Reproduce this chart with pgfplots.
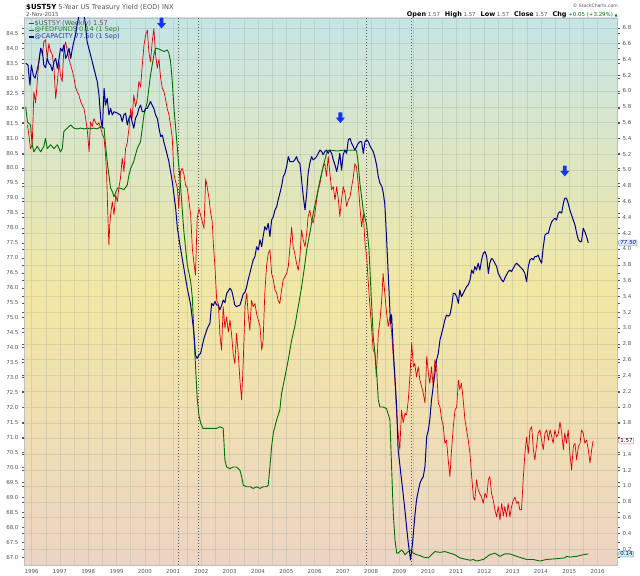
\documentclass[border=0pt]{standalone}
\usepackage{pgfplots}
\pgfplotsset{compat=1.18}
\usepackage{fontspec}
\setmainfont{DejaVu Sans}
\usetikzlibrary{shapes.symbols}
\definecolor{bgtop}{RGB}{198,229,230}
\definecolor{bgmid}{RGB}{242,231,163}
\definecolor{bgbot}{RGB}{236,213,196}
\definecolor{gridc}{RGB}{150,160,150}
\definecolor{ustred}{RGB}{228,0,0}
\definecolor{ffgreen}{RGB}{0,112,0}
\definecolor{capblue}{RGB}{0,0,145}
\definecolor{arrowblue}{RGB}{20,50,255}
\definecolor{labgray}{RGB}{85,85,85}
\definecolor{leggreen}{RGB}{40,130,40}
\definecolor{legblue}{RGB}{40,60,170}
\definecolor{tagred}{RGB}{230,120,120}
\definecolor{tagteal}{RGB}{80,170,160}
\definecolor{tagtealfill}{RGB}{215,240,238}
\definecolor{tagblue}{RGB}{100,140,220}
\definecolor{tagbluefill}{RGB}{225,238,250}
\pgfdeclareplotmark{dnarrow}{%
 \pgfpathmoveto{\pgfpoint{-0.42\pgfplotmarksize}{1.2\pgfplotmarksize}}%
 \pgfpathlineto{\pgfpoint{0.42\pgfplotmarksize}{1.2\pgfplotmarksize}}%
 \pgfpathlineto{\pgfpoint{0.42\pgfplotmarksize}{0\pgfplotmarksize}}%
 \pgfpathlineto{\pgfpoint{1\pgfplotmarksize}{0\pgfplotmarksize}}%
 \pgfpathlineto{\pgfpoint{0\pgfplotmarksize}{-1.2\pgfplotmarksize}}%
 \pgfpathlineto{\pgfpoint{-1\pgfplotmarksize}{0\pgfplotmarksize}}%
 \pgfpathlineto{\pgfpoint{-0.42\pgfplotmarksize}{0\pgfplotmarksize}}%
 \pgfpathclose\pgfusepathqfill}
\begin{document}
\begin{tikzpicture}
\path[use as bounding box, fill=white] (0,0) rectangle (640bp,576bp);
% ---------- right-axis chart: yields ----------
\begin{axis}[
 at={(24bp,11bp)}, anchor=south west, scale only axis,
 width=593.7bp, height=547bp,
 xmin=1995.73, xmax=2016.71, ymin=0, ymax=6.924,
 clip mode=individual,
 axis background/.style={shade, top color=bgtop, bottom color=bgbot, middle color=bgmid},
 axis line style={draw=gray!50, line width=0.5bp},
 xtick={1996,...,2016}, minor xtick={1996.5,1997.5,...,2015.6},
 ytick={0.2,0.4,...,1.45,1.8,2.0,...,6.85}, yticklabel pos=right,
 extra y ticks={1.6}, extra y tick labels={},
 grid=both,
 major grid style={draw=gridc, opacity=0.25, line width=0.5bp},
 minor grid style={draw=gridc, opacity=0.25, line width=0.5bp},
 extra y tick style={grid=major, major grid style={draw=gridc, opacity=0.25, line width=0.5bp}},
 xtick style={draw=none}, minor tick length=0pt,
 ytick style={draw=labgray, line width=0.4bp}, major tick length=2bp, tick align=outside,
 xticklabel style={font=\fontsize{5.5}{6}\selectfont, text=labgray, yshift=1bp, /pgf/number format/1000 sep={}},
 yticklabel style={font=\fontsize{5.5}{6}\selectfont, text=labgray, xshift=-0.5bp, /pgf/number format/.cd, fixed, precision=1, fixed zerofill},
 /pgf/number format/assume math mode=true,
 legend style={at={(0.0067,0.9965)}, anchor=north west, draw=none, fill=none,
   font=\fontsize{6.6}{7}\selectfont, inner sep=0pt, row sep=0pt,
   nodes={inner sep=0.25bp, text height=4.9bp, text depth=1.3bp}},
 legend cell align=left,
 legend image code/.code={\draw[#1, line width=1.3bp] (0bp,0bp) -- (5bp,0bp);},
]
\addplot[forget plot, draw=gray!70!black, line width=0.6bp, dash pattern=on 1.5bp off 1.5bp] coordinates {(2001.18,0) (2001.18,6.924)};
\addplot[forget plot, draw=gray!70!black, line width=0.6bp, dash pattern=on 1.5bp off 1.5bp] coordinates {(2001.88,0) (2001.88,6.924)};
\addplot[forget plot, draw=gray!70!black, line width=0.6bp, dash pattern=on 1.5bp off 1.5bp] coordinates {(2007.81,0) (2007.81,6.924)};
\addplot[forget plot, draw=gray!70!black, line width=0.6bp, dash pattern=on 1.5bp off 1.5bp] coordinates {(2009.41,0) (2009.41,6.924)};
% $UST5Y weekly
\addplot[ustred, line width=0.7bp, line join=round] coordinates {
(1995.85,5.57) (1995.90,5.45) (1995.96,5.27) (1996.02,5.32) (1996.08,5.99) (1996.14,5.85) (1996.2,6.12) (1996.26,6.41) (1996.32,6.54) (1996.38,6.45) (1996.43,6.62) (1996.49,6.65) (1996.55,6.41) (1996.61,6.6) (1996.67,6.5) (1996.73,6.46) (1996.79,6.29) (1996.85,5.9) (1996.91,6.12) (1996.97,6.37) (1997.02,6.2) (1997.08,6.12) (1997.14,6.54) (1997.2,6.62) (1997.26,6.5) (1997.32,6.4) (1997.38,6.33) (1997.44,6.25) (1997.5,6.16) (1997.55,6.05) (1997.61,5.99) (1997.67,5.95) (1997.73,5.87) (1997.79,5.82) (1997.85,5.78) (1997.91,5.65) (1997.97,5.49) (1998.03,5.23) (1998.08,5.61) (1998.14,5.55) (1998.2,5.65) (1998.26,5.6) (1998.32,5.57) (1998.38,5.6) (1998.44,5.53) (1998.5,5.45) (1998.56,5.4) (1998.61,5.2) (1998.65,4.94) (1998.7,4.35) (1998.73,4.05) (1998.76,4.3) (1998.79,4.43) (1998.85,4.6) (1998.91,4.43) (1998.97,4.68) (1999.03,4.6) (1999.08,4.77) (1999.14,4.9) (1999.2,5.15) (1999.26,4.98) (1999.32,5.27) (1999.38,5.35) (1999.44,5.53) (1999.5,5.78) (1999.55,5.65) (1999.61,5.95) (1999.67,5.8) (1999.73,5.9) (1999.79,6.12) (1999.85,6.05) (1999.91,6.33) (1999.97,6.58) (2000.03,6.71) (2000.09,6.77) (2000.14,6.5) (2000.2,6.37) (2000.26,6.62) (2000.32,6.79) (2000.38,6.46) (2000.44,6.29) (2000.5,6.4) (2000.56,6.16) (2000.62,6.03) (2000.67,6.0) (2000.73,5.9) (2000.79,5.78) (2000.85,5.7) (2000.91,5.57) (2000.97,5.4) (2001.03,4.94) (2001.09,4.85) (2001.15,4.77) (2001.2,4.51) (2001.26,4.98) (2001.32,5.02) (2001.38,4.95) (2001.44,4.81) (2001.5,4.77) (2001.56,4.6) (2001.62,4.43) (2001.68,4.0) (2001.73,3.84) (2001.79,3.67) (2001.85,4.39) (2001.91,4.51) (2001.97,4.43) (2002.03,4.35) (2002.09,4.26) (2002.15,4.89) (2002.21,4.77) (2002.27,4.64) (2002.32,4.47) (2002.38,4.35) (2002.42,4.07) (2002.48,3.76) (2002.54,3.35) (2002.6,3.3) (2002.65,2.93) (2002.71,2.72) (2002.77,3.27) (2002.83,3.0)
(2002.89,3.14) (2002.95,2.95) (2003.01,3.1) (2003.07,2.9) (2003.12,2.68) (2003.18,2.55) (2003.24,2.93) (2003.3,2.68) (2003.36,2.34) (2003.42,2.09) (2003.48,2.6) (2003.54,3.27) (2003.6,3.44) (2003.65,3.18) (2003.71,2.97) (2003.77,3.35) (2003.83,3.27) (2003.89,3.31) (2003.95,3.18) (2004.01,3.1) (2004.07,3.02) (2004.13,2.72) (2004.18,2.85) (2004.24,3.44) (2004.3,3.78) (2004.36,3.94) (2004.42,3.99) (2004.48,3.69) (2004.54,3.61) (2004.6,3.48) (2004.66,3.44) (2004.71,3.35) (2004.77,3.31) (2004.83,3.48) (2004.89,3.61) (2004.95,3.65) (2005.01,3.69) (2005.07,3.78) (2005.13,4.03) (2005.19,4.28) (2005.24,4.03) (2005.3,3.94) (2005.36,3.82) (2005.42,3.73) (2005.48,3.9) (2005.54,4.24) (2005.6,4.11) (2005.66,4.03) (2005.72,4.2) (2005.77,4.41) (2005.83,4.49) (2005.89,4.37) (2005.95,4.33) (2006.01,4.45) (2006.07,4.62) (2006.13,4.75) (2006.19,4.83) (2006.25,4.96) (2006.3,5.04) (2006.36,5.08) (2006.42,4.92) (2006.48,5.17) (2006.54,4.96) (2006.6,4.75) (2006.66,4.79) (2006.72,4.62) (2006.78,4.79) (2006.84,4.62) (2006.89,4.41) (2006.95,4.62) (2007.01,4.79) (2007.07,4.71) (2007.13,4.54) (2007.19,4.62) (2007.25,4.66) (2007.31,4.79) (2007.37,4.92) (2007.42,5.08) (2007.48,5.04) (2007.54,4.83) (2007.6,4.54) (2007.66,4.28) (2007.72,4.45) (2007.78,4.07) (2007.84,3.9) (2007.89,3.61) (2007.95,3.3) (2008.01,3.02) (2008.07,2.72) (2008.13,2.68) (2008.18,2.38) (2008.25,2.93) (2008.31,3.1) (2008.37,3.35) (2008.42,3.69) (2008.48,3.44) (2008.54,3.2) (2008.6,3.02) (2008.66,3.14) (2008.72,2.95) (2008.78,2.64) (2008.84,2.3) (2008.9,1.9) (2008.95,1.67) (2009.01,1.46) (2009.07,1.96) (2009.13,1.8) (2009.19,1.92) (2009.25,1.9) (2009.31,2.09) (2009.37,2.4) (2009.43,2.81) (2009.49,2.51) (2009.54,2.55) (2009.6,2.38) (2009.66,2.51) (2009.72,2.34) (2009.78,2.26) (2009.84,2.17) (2009.9,2.05) (2009.96,2.64) (2010.02,2.43) (2010.07,2.3) (2010.13,2.51) (2010.19,2.26) (2010.25,2.6) (2010.31,2.51) (2010.37,2.05) (2010.43,2.0) (2010.49,1.84) (2010.55,1.75) (2010.6,1.54) (2010.66,1.58) (2010.72,1.33) (2010.78,1.12) (2010.84,1.46) (2010.9,1.75) (2010.96,1.96) (2011.02,2.0) (2011.08,2.34) (2011.13,2.22) (2011.19,2.3) (2011.25,2.09) (2011.31,1.84) (2011.37,1.71) (2011.43,1.58) (2011.49,1.41) (2011.55,1.12) (2011.61,0.86) (2011.66,0.82) (2011.72,1.08) (2011.78,0.95) (2011.84,0.9) (2011.9,0.86) (2011.96,0.78) (2012.02,0.91) (2012.08,0.85) (2012.14,1.08) (2012.19,1.12) (2012.25,0.91) (2012.31,0.82) (2012.37,0.7) (2012.43,0.61) (2012.49,0.74) (2012.55,0.57) (2012.61,0.78) (2012.67,0.62) (2012.72,0.74) (2012.78,0.61) (2012.84,0.78) (2012.9,0.61) (2012.96,0.74) (2013.02,0.82) (2013.08,0.86) (2013.14,0.78) (2013.2,0.8) (2013.25,0.7) (2013.31,0.7) (2013.37,1.08) (2013.43,1.41) (2013.49,1.62) (2013.55,1.41) (2013.61,1.71) (2013.67,1.75) (2013.73,1.46) (2013.78,1.33) (2013.84,1.5) (2013.9,1.67) (2013.96,1.71) (2014.02,1.58) (2014.08,1.46) (2014.14,1.67) (2014.2,1.71) (2014.26,1.58) (2014.32,1.71) (2014.38,1.62) (2014.43,1.54) (2014.49,1.71) (2014.55,1.62) (2014.61,1.66) (2014.67,1.81) (2014.73,1.67) (2014.79,1.46) (2014.84,1.67) (2014.9,1.54) (2014.96,1.71) (2015.02,1.41) (2015.08,1.2) (2015.14,1.5) (2015.2,1.54) (2015.26,1.33) (2015.32,1.5) (2015.38,1.54) (2015.43,1.71) (2015.49,1.67) (2015.55,1.54) (2015.61,1.58) (2015.67,1.46) (2015.73,1.29) (2015.79,1.46) (2015.84,1.57)
};
\addlegendentry{\textcolor{labgray}{\$UST5Y (Weekly) 1.57}}
% @FEDFUNDS
\addplot[ffgreen, line width=0.9bp, line join=round] coordinates {
(1995.79,5.8) (1995.85,5.61) (1995.96,5.57) (1996.02,5.32) (1996.08,5.23) (1996.2,5.3) (1996.32,5.23) (1996.43,5.3) (1996.49,5.4) (1996.55,5.27) (1996.67,5.32) (1996.79,5.27) (1996.91,5.32) (1997.02,5.23) (1997.08,5.27) (1997.14,5.49) (1997.2,5.51) (1997.26,5.53) (1997.38,5.57) (1997.49,5.53) (1997.61,5.52) (1997.73,5.53) (1997.85,5.52) (1997.97,5.53) (1998.08,5.52) (1998.2,5.53) (1998.32,5.52) (1998.44,5.55) (1998.56,5.53) (1998.61,5.32) (1998.67,5.11) (1998.73,4.94) (1998.79,4.77) (1998.85,4.73) (1998.91,4.66) (1999.03,4.77) (1999.14,4.77) (1999.26,4.75) (1999.38,4.81) (1999.44,4.94) (1999.5,5.02) (1999.61,5.11) (1999.73,5.27) (1999.85,5.36) (1999.91,5.53) (1999.97,5.7) (2000.09,5.87) (2000.14,6.03) (2000.2,6.2) (2000.26,6.33) (2000.32,6.46) (2000.38,6.54) (2000.44,6.54) (2000.56,6.52) (2000.68,6.5) (2000.79,6.52) (2000.85,6.48) (2000.91,6.37) (2000.97,6.12) (2001.03,5.78) (2001.09,5.53) (2001.15,5.27) (2001.2,5.06) (2001.26,4.81) (2001.32,4.51) (2001.38,4.22) (2001.5,3.8) (2001.62,3.59) (2001.68,3.38) (2001.73,2.95) (2001.79,2.53) (2001.85,2.11) (2001.91,1.9) (2001.97,1.8) (2002.05,1.73) (2002.3,1.73) (2002.54,1.73) (2002.65,1.75) (2002.77,1.73) (2002.83,1.33) (2002.89,1.24) (2003.01,1.22) (2003.12,1.24) (2003.24,1.24) (2003.36,1.2) (2003.42,1.12) (2003.48,1.01) (2003.6,0.99) (2003.72,0.99) (2003.83,0.97) (2003.95,0.99) (2004.07,0.97) (2004.18,0.99) (2004.3,0.99) (2004.36,1.01) (2004.42,1.24) (2004.48,1.5) (2004.54,1.67) (2004.66,1.84) (2004.77,1.96) (2004.83,2.17) (2004.95,2.38) (2005.07,2.6) (2005.19,2.85) (2005.3,3.02) (2005.42,3.27) (2005.54,3.52) (2005.66,3.82) (2005.72,3.99) (2005.83,4.2) (2005.95,4.45) (2006.07,4.66) (2006.19,4.87) (2006.3,5.04) (2006.42,5.21) (2006.48,5.25) (2006.6,5.25) (2006.78,5.24) (2007.01,5.25) (2007.25,5.25) (2007.48,5.25) (2007.54,5.08) (2007.6,4.83) (2007.72,4.49) (2007.84,4.3) (2007.92,4.0) (2008.0,3.4) (2008.07,2.9) (2008.19,2.45) (2008.25,2.09) (2008.31,2.0) (2008.42,2.0) (2008.54,1.98) (2008.66,1.84) (2008.72,1.24) (2008.78,0.65) (2008.84,0.32) (2008.9,0.15) (2008.95,0.15) (2009.07,0.19) (2009.13,0.17) (2009.19,0.13) (2009.31,0.17) (2009.4,0.19) (2009.49,0.15) (2009.6,0.13) (2009.72,0.12) (2009.84,0.1) (2010.02,0.09) (2010.13,0.13) (2010.25,0.17) (2010.43,0.16) (2010.6,0.17) (2010.78,0.15) (2010.96,0.13) (2011.13,0.09) (2011.37,0.07) (2011.5,0.06) (2011.61,0.07) (2011.72,0.05) (2011.96,0.07) (2012.19,0.13) (2012.37,0.15) (2012.55,0.11) (2012.72,0.14) (2012.9,0.14) (2013.14,0.11) (2013.31,0.09) (2013.49,0.07) (2013.72,0.07) (2013.96,0.05) (2014.2,0.07) (2014.55,0.08) (2014.84,0.09) (2014.9,0.11) (2015.02,0.1) (2015.26,0.11) (2015.49,0.13) (2015.67,0.14)
};
\addlegendentry{\textcolor{leggreen}{@FEDFUNDS 0.14 (1 Sep)}}
\addlegendimage{capblue}
\addlegendentry{\textcolor{legblue}{@CAPACITY 77.50 (1 Sep)}}
\node[signal, signal to=west, signal pointer angle=120, draw=tagred, fill=white, inner sep=0.8bp, font=\fontsize{5.5}{6}\selectfont, anchor=west] at (axis cs:2016.71,1.57) {1.57};
\node[signal, signal to=west, signal pointer angle=120, draw=tagteal, fill=tagtealfill, inner sep=0.8bp, font=\fontsize{5.5}{6}\selectfont, text=capblue, anchor=west] at (axis cs:2016.71,0.14) {0.14};
\end{axis}
% ---------- left-axis chart: capacity ----------
\begin{axis}[
 at={(24bp,11bp)}, anchor=south west, scale only axis,
 width=593.7bp, height=547bp,
 xmin=1995.73, xmax=2016.71, ymin=66.74, ymax=85.01,
 clip mode=individual,
 axis line style={draw=none},
 xtick=\empty,
 ytick={67,67.5,...,84.6}, yticklabel pos=left,
 ytick style={draw=labgray, line width=0.4bp}, major tick length=2bp, tick align=outside,
 yticklabel style={font=\fontsize{5.5}{6}\selectfont, text=labgray, /pgf/number format/.cd, fixed, precision=1, fixed zerofill},
 /pgf/number format/assume math mode=true,
]
\addplot[capblue, line width=1.0bp, line join=round] coordinates {
(1995.79,83.5) (1995.87,83.44) (1995.94,82.77) (1995.99,83.44) (1996.06,83.1) (1996.12,83.0) (1996.18,83.22) (1996.26,83.55) (1996.32,84.0) (1996.38,83.9) (1996.43,83.44) (1996.49,83.35) (1996.55,83.66) (1996.61,83.5) (1996.67,83.44) (1996.73,83.25) (1996.79,83.55) (1996.85,83.66) (1996.91,83.33) (1996.97,83.66) (1997.02,84.0) (1997.08,83.9) (1997.14,84.11) (1997.2,83.66) (1997.26,83.78) (1997.32,84.0) (1997.38,83.66) (1997.44,84.0) (1997.49,84.22) (1997.55,84.44) (1997.61,84.8) (1997.7,85.2) (1997.8,85.3) (1997.88,84.95) (1997.96,84.22) (1998.08,83.78) (1998.14,83.55) (1998.2,83.33) (1998.26,83.1) (1998.32,82.88) (1998.38,82.44) (1998.44,81.66) (1998.5,81.33) (1998.56,82.66) (1998.61,82.1) (1998.67,82.33) (1998.73,81.77) (1998.79,81.99) (1998.85,81.77) (1998.91,81.88) (1999.03,81.83) (1999.14,81.77) (1999.2,81.55) (1999.26,81.77) (1999.32,81.83) (1999.38,81.44) (1999.44,81.66) (1999.5,81.77) (1999.55,81.55) (1999.61,81.33) (1999.67,81.66) (1999.73,81.77) (1999.79,81.99) (1999.85,82.1) (1999.91,81.88) (1999.97,81.88) (2000.03,81.99) (2000.09,81.99) (2000.14,82.1) (2000.2,82.22) (2000.26,82.1) (2000.32,81.99) (2000.38,81.77) (2000.44,81.66) (2000.5,81.33) (2000.56,81.05) (2000.62,81.1) (2000.67,80.88) (2000.73,80.66) (2000.79,80.44) (2000.85,80.21) (2000.91,79.88) (2000.97,79.55) (2001.03,79.1) (2001.09,78.65) (2001.15,77.99) (2001.26,77.32) (2001.38,76.65) (2001.5,75.98) (2001.62,75.43) (2001.73,74.53) (2001.79,73.75) (2001.85,73.64) (2001.91,73.75) (2001.97,73.81) (2002.09,74.31) (2002.21,74.65) (2002.3,74.81) (2002.36,75.48) (2002.42,75.4) (2002.48,75.54) (2002.54,75.42) (2002.6,75.42) (2002.65,75.26) (2002.71,75.4) (2002.77,75.59) (2002.83,75.5) (2002.89,75.8) (2002.95,75.9) (2003.01,75.98) (2003.07,75.9) (2003.12,75.7) (2003.18,75.42) (2003.24,75.37) (2003.36,75.42) (2003.42,75.6) (2003.48,75.8) (2003.54,75.85) (2003.6,76.04) (2003.65,76.26) (2003.71,76.48) (2003.77,76.71) (2003.83,76.93) (2003.89,77.04) (2003.95,77.37) (2004.01,77.26) (2004.07,77.6) (2004.13,77.37) (2004.18,77.71) (2004.24,78.04) (2004.3,77.93) (2004.36,78.15) (2004.42,77.71) (2004.48,78.26) (2004.54,78.37) (2004.6,78.6) (2004.66,78.71) (2004.71,78.93) (2004.77,79.15) (2004.83,79.38) (2004.89,79.71) (2004.95,79.82) (2005.01,80.05) (2005.07,80.38) (2005.13,80.21) (2005.24,80.21) (2005.3,80.27) (2005.36,80.38) (2005.42,80.21) (2005.48,80.16) (2005.54,79.6) (2005.6,79.04) (2005.66,78.6) (2005.72,79.15) (2005.77,79.82) (2005.83,80.16) (2005.89,80.38) (2005.95,80.27) (2006.01,80.32) (2006.07,80.38) (2006.13,80.49) (2006.19,80.6) (2006.25,80.55) (2006.3,80.44) (2006.36,80.55) (2006.42,80.6) (2006.48,80.49) (2006.54,80.6) (2006.6,80.49) (2006.66,80.27) (2006.72,80.1) (2006.78,79.88) (2006.84,80.16) (2006.89,80.49) (2006.95,79.93) (2007.01,80.44) (2007.07,80.6) (2007.13,80.49) (2007.19,80.94) (2007.25,80.99) (2007.31,80.82) (2007.37,80.71) (2007.42,80.6) (2007.48,80.71) (2007.54,80.82) (2007.6,80.88) (2007.66,80.88) (2007.72,80.49) (2007.78,80.88) (2007.84,80.94) (2007.9,80.88) (2007.95,80.75) (2008.01,80.65) (2008.07,80.55) (2008.13,80.35) (2008.19,80.1) (2008.25,79.71) (2008.31,79.49) (2008.37,79.4) (2008.42,79.2) (2008.48,78.8) (2008.54,77.7) (2008.6,76.48) (2008.66,75.25) (2008.68,74.8) (2008.72,75.1) (2008.78,73.9) (2008.84,73.0) (2008.9,72.0) (2008.95,70.6) (2009.01,70.1) (2009.07,69.6) (2009.13,69.1) (2009.19,68.58) (2009.25,68.0) (2009.31,67.47) (2009.39,66.91) (2009.46,67.47) (2009.54,68.36) (2009.6,68.91) (2009.66,69.2) (2009.72,69.47) (2009.78,69.6) (2009.84,69.69) (2009.9,70.03) (2009.96,71.03) (2010.02,71.25) (2010.07,71.59) (2010.13,72.25) (2010.19,72.7) (2010.25,73.14) (2010.31,73.59) (2010.37,73.81) (2010.43,74.26) (2010.49,74.48) (2010.55,74.7) (2010.6,74.92) (2010.66,75.09) (2010.72,75.05) (2010.78,75.09) (2010.84,75.37) (2010.9,75.81) (2010.96,75.81) (2011.02,75.7) (2011.08,75.48) (2011.13,75.93) (2011.19,75.7) (2011.25,75.81) (2011.37,76.04) (2011.43,76.1) (2011.49,76.26) (2011.55,76.59) (2011.61,76.48) (2011.66,76.71) (2011.72,76.59) (2011.78,76.82) (2011.84,76.59) (2011.9,76.93) (2011.96,77.15) (2012.02,77.21) (2012.08,77.04) (2012.14,76.48) (2012.19,76.82) (2012.25,76.98) (2012.31,76.93) (2012.37,76.82) (2012.43,76.71) (2012.49,76.48) (2012.55,76.37) (2012.61,76.26) (2012.67,76.2) (2012.72,76.32) (2012.78,76.43) (2012.84,76.54) (2012.9,76.59) (2012.96,76.54) (2013.02,76.65) (2013.08,76.76) (2013.14,76.82) (2013.2,76.76) (2013.25,76.71) (2013.31,76.65) (2013.37,76.59) (2013.43,76.48) (2013.49,76.2) (2013.55,76.71) (2013.61,76.93) (2013.67,76.98) (2013.73,76.93) (2013.78,77.04) (2013.84,77.04) (2013.9,77.09) (2013.96,76.93) (2014.02,76.82) (2014.08,77.37) (2014.14,77.76) (2014.2,77.82) (2014.26,77.82) (2014.32,78.04) (2014.38,78.21) (2014.43,78.26) (2014.49,78.32) (2014.55,78.26) (2014.61,78.49) (2014.67,78.54) (2014.73,78.49) (2014.79,78.82) (2014.84,78.99) (2014.9,78.99) (2014.96,78.82) (2015.02,78.6) (2015.08,78.43) (2015.14,78.26) (2015.2,78.1) (2015.26,77.82) (2015.32,77.6) (2015.38,77.54) (2015.43,77.54) (2015.49,77.99) (2015.55,77.87) (2015.61,77.71) (2015.67,77.5)
};
\addplot[only marks, mark=dnarrow, mark size=4.5bp, color=arrowblue] coordinates {(2000.59,84.84) (2006.91,81.68) (2014.84,79.9)};
\node[signal, signal to=west, signal pointer angle=120, draw=tagblue, fill=tagbluefill, inner sep=0.8bp, font=\fontsize{5.5}{6}\selectfont\itshape, text=capblue, anchor=west] at (axis cs:2016.71,77.5) {77.50};
\end{axis}
% ---------- header text ----------
\node[anchor=base west, inner sep=0] at (26bp,566.5bp) {{\bfseries\fontsize{7}{8}\selectfont\$UST5Y}\hspace{2bp}{\fontsize{6.7}{7}\selectfont\color{labgray}5-Year US Treasury Yield (EOD) INX}};
\node[anchor=base west, inner sep=0] at (26bp,559.3bp) {\fontsize{5.6}{6}\selectfont\color{labgray}2-Nov-2015};
\node[anchor=base east, inner sep=0] at (618bp,568.5bp) {\fontsize{4.6}{5}\selectfont\color{labgray}© StockCharts.com};
\node[anchor=base east, inner sep=0] at (618bp,559.8bp) {{\bfseries\fontsize{6.5}{7}\selectfont Open}\,{\fontsize{5.5}{6}\selectfont\color{labgray}1.57}\enspace{\bfseries\fontsize{6.5}{7}\selectfont High}\,{\fontsize{5.5}{6}\selectfont\color{labgray}1.57}\enspace{\bfseries\fontsize{6.5}{7}\selectfont Low}\,{\fontsize{5.5}{6}\selectfont\color{labgray}1.57}\enspace{\bfseries\fontsize{6.5}{7}\selectfont Close}\,{\fontsize{5.5}{6}\selectfont\color{labgray}1.57}\enspace{\bfseries\fontsize{6.5}{7}\selectfont Chg}\,{\fontsize{5.5}{6}\selectfont\color{ffgreen}+0.05 (+3.29\%)}\,{\fontsize{4}{5}\selectfont\color{ffgreen}▲}};
\end{tikzpicture}
\end{document}
